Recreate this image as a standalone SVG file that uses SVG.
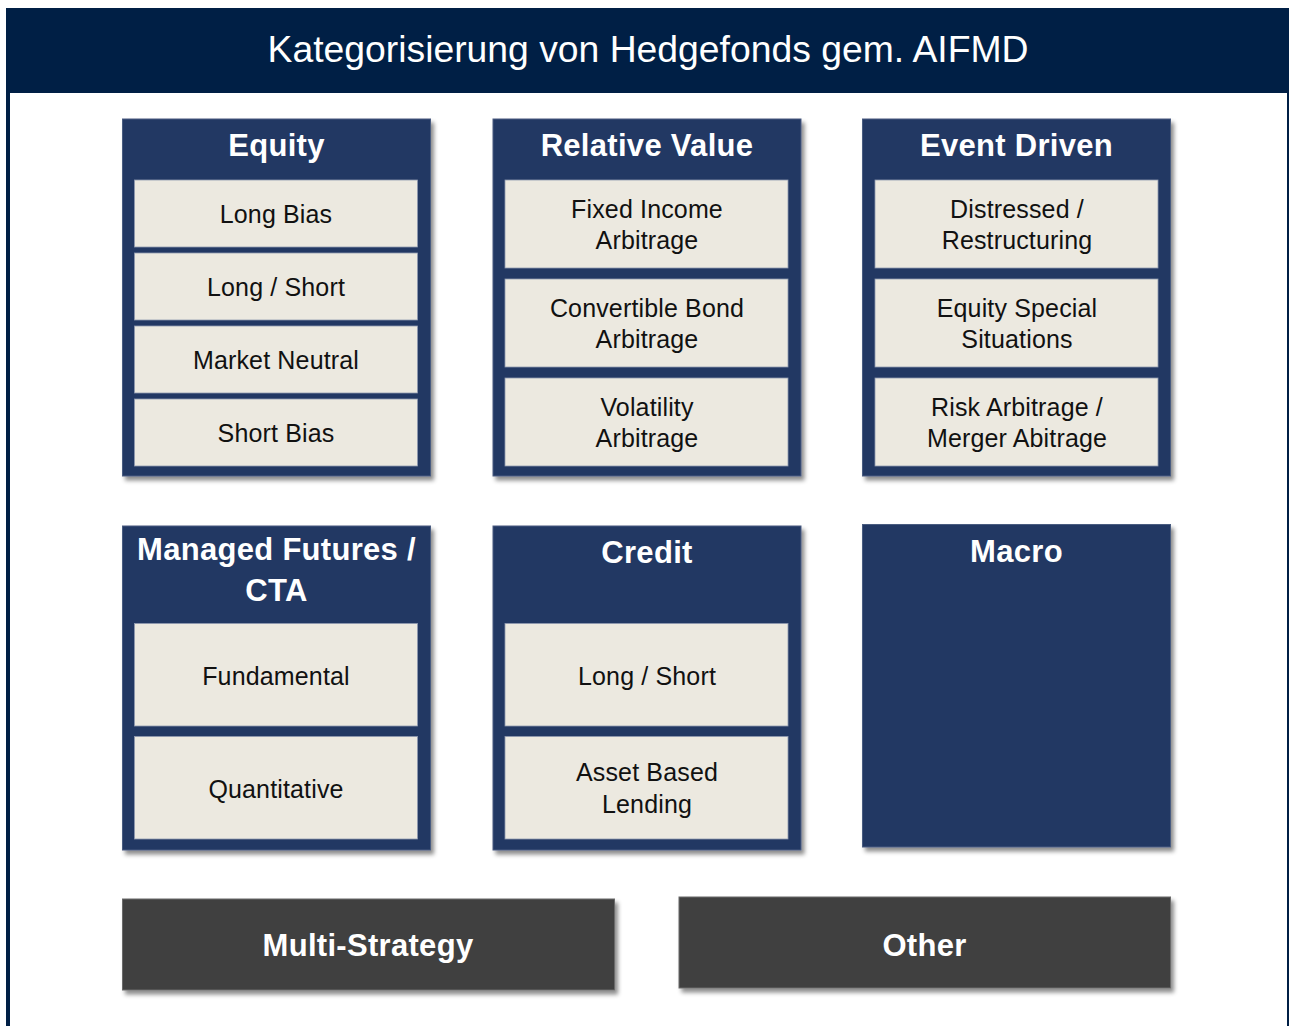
<svg xmlns="http://www.w3.org/2000/svg" width="1289" height="1026" viewBox="0 0 1289 1026">
  <defs>
    <filter id="shadow" x="-5%" y="-5%" width="115%" height="115%">
      <feDropShadow dx="3" dy="4" stdDeviation="2.2" flood-color="#000" flood-opacity="0.45"/>
    </filter>
  </defs>
  <style>
    text { font-family: "Liberation Sans", Arial, sans-serif; text-anchor: middle; }
    .title { font-size: 37.3px; fill: #ffffff; }
    .cat { fill: #213864; stroke: #4a5b80; stroke-width: 1; filter: url(#shadow); }
    .grey { fill: #404040; stroke: #6a6a6a; stroke-width: 1; filter: url(#shadow); }
    .sub { fill: #ece9e0; stroke: #8f9ab0; stroke-width: 0.8; }
    .head { font-size: 31px; font-weight: bold; fill: #ffffff; letter-spacing: 0.3px; }
    .item { font-size: 25px; fill: #111111; letter-spacing: 0.15px; }
  </style>

  <!-- page frame and title banner -->
  <rect x="0" y="0" width="1289" height="1026" fill="#ffffff"/>
  <rect x="6" y="8" width="4" height="1018" fill="#001f45"/>
  <rect x="1287" y="8" width="2" height="1018" fill="#001f45"/>
  <g id="banner">
    <rect x="6" y="8" width="1283" height="85" fill="#001f45"/>
    <text class="title" x="648" y="62">Kategorisierung von Hedgefonds gem. AIFMD</text>
  </g>

  <!-- Equity -->
  <g id="equity">
    <rect class="cat" x="122.5" y="119" width="308" height="357"/>
    <text class="head" x="276.5" y="156">Equity</text>
    <rect class="sub" x="134.5" y="180" width="283" height="67"/>
    <text class="item" x="276" y="223">Long Bias</text>
    <rect class="sub" x="134.5" y="253" width="283" height="67"/>
    <text class="item" x="276" y="296">Long / Short</text>
    <rect class="sub" x="134.5" y="326" width="283" height="67"/>
    <text class="item" x="276" y="369">Market Neutral</text>
    <rect class="sub" x="134.5" y="399" width="283" height="67"/>
    <text class="item" x="276" y="442">Short Bias</text>
  </g>

  <!-- Relative Value -->
  <g id="relative-value">
    <rect class="cat" x="493" y="119" width="308" height="357"/>
    <text class="head" x="647" y="156">Relative Value</text>
    <rect class="sub" x="505" y="180" width="283" height="88"/>
    <text class="item" x="647" y="217.5">Fixed Income</text>
    <text class="item" x="647" y="248.5">Arbitrage</text>
    <rect class="sub" x="505" y="279" width="283" height="88"/>
    <text class="item" x="647" y="316.5">Convertible Bond</text>
    <text class="item" x="647" y="347.5">Arbitrage</text>
    <rect class="sub" x="505" y="378" width="283" height="88"/>
    <text class="item" x="647" y="415.5">Volatility</text>
    <text class="item" x="647" y="446.5">Arbitrage</text>
  </g>

  <!-- Event Driven -->
  <g id="event-driven">
    <rect class="cat" x="862.5" y="119" width="308" height="357"/>
    <text class="head" x="1016.5" y="156">Event Driven</text>
    <rect class="sub" x="875" y="180" width="283" height="88"/>
    <text class="item" x="1017" y="217.5">Distressed /</text>
    <text class="item" x="1017" y="248.5">Restructuring</text>
    <rect class="sub" x="875" y="279" width="283" height="88"/>
    <text class="item" x="1017" y="316.5">Equity Special</text>
    <text class="item" x="1017" y="347.5">Situations</text>
    <rect class="sub" x="875" y="378" width="283" height="88"/>
    <text class="item" x="1017" y="416">Risk Arbitrage /</text>
    <text class="item" x="1017" y="447">Merger Abitrage</text>
  </g>

  <!-- Managed Futures / CTA -->
  <g id="managed-futures">
    <rect class="cat" x="122.5" y="526" width="308" height="324"/>
    <text class="head" x="276.5" y="560">Managed Futures /</text>
    <text class="head" x="276.5" y="601">CTA</text>
    <rect class="sub" x="134.5" y="623.5" width="283" height="102.5"/>
    <text class="item" x="276" y="684.5">Fundamental</text>
    <rect class="sub" x="134.5" y="736.5" width="283" height="102.5"/>
    <text class="item" x="276" y="797.5">Quantitative</text>
  </g>

  <!-- Credit -->
  <g id="credit">
    <rect class="cat" x="493" y="526" width="308" height="324"/>
    <text class="head" x="647" y="563">Credit</text>
    <rect class="sub" x="505" y="623.5" width="283" height="102.5"/>
    <text class="item" x="647" y="684.5">Long / Short</text>
    <rect class="sub" x="505" y="736.5" width="283" height="102.5"/>
    <text class="item" x="647" y="781">Asset Based</text>
    <text class="item" x="647" y="813">Lending</text>
  </g>

  <!-- Macro -->
  <g id="macro">
    <rect class="cat" x="862.5" y="524.5" width="308" height="322.5"/>
    <text class="head" x="1016.5" y="562">Macro</text>
  </g>

  <!-- Multi-Strategy -->
  <g id="multi-strategy">
    <rect class="grey" x="122.5" y="899" width="492" height="91"/>
    <text class="head" x="368" y="956">Multi-Strategy</text>
  </g>

  <!-- Other -->
  <g id="other">
    <rect class="grey" x="679" y="897" width="491.5" height="91"/>
    <text class="head" x="924.5" y="955.5">Other</text>
  </g>

  <g id="connectors"/>
</svg>
